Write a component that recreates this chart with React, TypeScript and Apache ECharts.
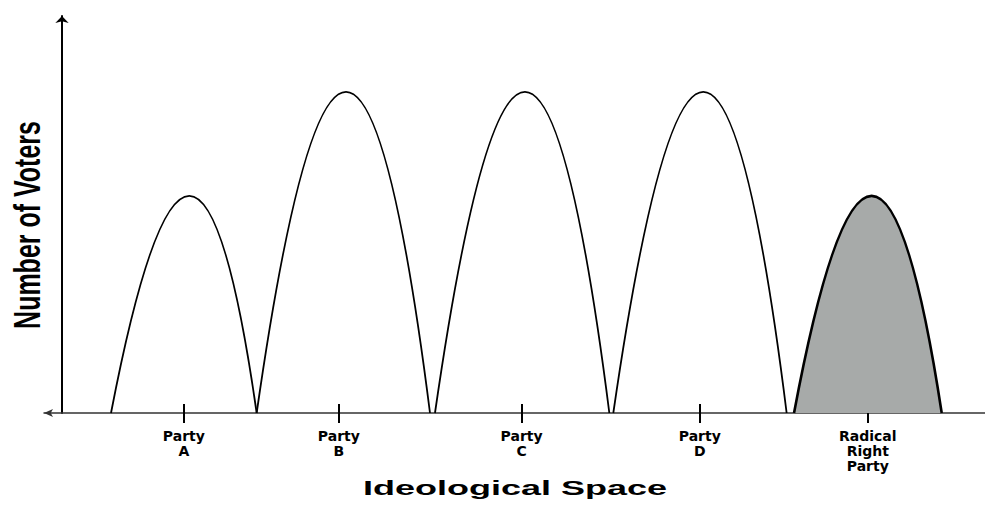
import React, { useEffect, useRef } from "react";
import * as echarts from "echarts";

// Party positions on the ideological axis and their labels
const partyPositions = [13.2, 30.0, 49.8, 69.1, 87.3];
const partyLabels = ["Party\nA", "Party\nB", "Party\nC", "Party\nD", "Radical\nRight\nParty"];

// Voter distributions: [left edge, peak position, right edge, peak number of voters]
const partyA = [5.31, 13.79, 21.09, 54.7];
const partyB = [21.09, 30.77, 39.87, 80.9];
const partyC = [40.41, 50.16, 59.3, 80.9];
const partyD = [59.73, 69.48, 78.51, 80.9];
const radicalRight = [79.31, 87.72, 95.31, 54.7];

const xTitle = "Ideological Space";
const yTitle = "Number of Voters";

export default function App() {
  const ref = useRef<HTMLDivElement>(null);
  useEffect(() => {
    if (!ref.current) return;
    const chart = echarts.init(ref.current, undefined, { renderer: "svg" });

    const hump = (data: number[], filled: boolean) => ({
      type: "custom",
      xAxisIndex: 0,
      yAxisIndex: 0,
      z: 3,
      data: [data],
      encode: { x: [0, 1, 2], y: [3] },
      renderItem: (_params: any, api: any) => {
        const p0 = api.coord([api.value(0), 0]);
        const pk = api.coord([api.value(1), api.value(3)]);
        const p1 = api.coord([api.value(2), 0]);
        const h = p0[1] - pk[1];
        const cx = (4 * pk[0] - p0[0] - p1[0]) / 2;
        return {
          type: "bezierCurve",
          shape: {
            x1: p0[0],
            y1: p0[1],
            x2: p1[0],
            y2: p1[1],
            cpx1: cx,
            cpy1: p0[1] - 2 * h,
          },
          style: {
            stroke: "#000",
            lineWidth: filled ? 2.6 : 1.8,
            fill: filled ? "#a7aaa9" : "none",
          },
        };
      },
    });

    const fmt = (v: number) => {
      const i = partyPositions.findIndex((p) => Math.abs(p - v) < 1e-6);
      return i >= 0 ? partyLabels[i] : "";
    };

    chart.setOption({
      animation: false,
      backgroundColor: "#fff",
      grid: { left: 44, right: 0, top: 16, bottom: 93, containLabel: false },
      xAxis: [
        {
          type: "value",
          min: -1.95,
          max: 100,
          splitLine: { show: false },
          axisLine: {
            show: true,
            onZero: true,
            symbol: ["arrow", "none"],
            symbolSize: [6, 9],
            lineStyle: { color: "#333", width: 1.5 },
          },
          axisTick: {
            show: true,
            customValues: partyPositions,
            length: 10,
            lineStyle: { color: "#000", width: 2 },
          },
          axisLabel: {
            show: true,
            customValues: partyPositions,
            formatter: fmt,
            margin: 15,
            fontFamily: "DejaVu Sans",
            fontWeight: "bold",
            fontSize: 14,
            lineHeight: 15,
            color: "#000",
          },
        },
        {
          type: "value",
          min: -1.95,
          max: 100,
          position: "bottom",
          splitLine: { show: false },
          axisLine: { show: false, onZero: true },
          axisTick: {
            show: true,
            inside: true,
            customValues: partyPositions,
            length: 9,
            lineStyle: { color: "#000", width: 2 },
          },
          axisLabel: { show: false },
        },
      ],
      yAxis: {
        type: "value",
        min: 0,
        max: 100,
        splitLine: { show: false },
        axisTick: { show: false },
        axisLabel: { show: false },
        axisLine: {
          show: true,
          onZero: true,
          symbol: ["none", "arrow"],
          symbolSize: [10, 7],
          lineStyle: { color: "#000", width: 2 },
        },
      },
      series: [
        hump(partyA, false),
        hump(partyB, false),
        hump(partyC, false),
        hump(partyD, false),
        hump(radicalRight, true),
      ],
      graphic: [
        {
          type: "text",
          x: 515,
          y: 488,
          scaleX: 1.8,
          style: {
            text: xTitle,
            fontFamily: "Liberation Sans",
            fontWeight: "bold",
            fontSize: 20,
            fill: "#000",
            align: "center",
            verticalAlign: "middle",
          },
        },
        {
          type: "text",
          x: 27,
          y: 225,
          rotation: Math.PI / 2,
          scaleY: 1.5,
          style: {
            text: yTitle,
            fontFamily: "Liberation Sans",
            fontWeight: "bold",
            fontSize: 25,
            fill: "#000",
            align: "center",
            verticalAlign: "middle",
          },
        },
      ],
    });
    return () => chart.dispose();
  }, []);
  return (
    <div
      ref={ref}
      style={{ position: "fixed", left: 0, top: 0, width: 985, height: 506, background: "#fff" }}
    />
  );
}
